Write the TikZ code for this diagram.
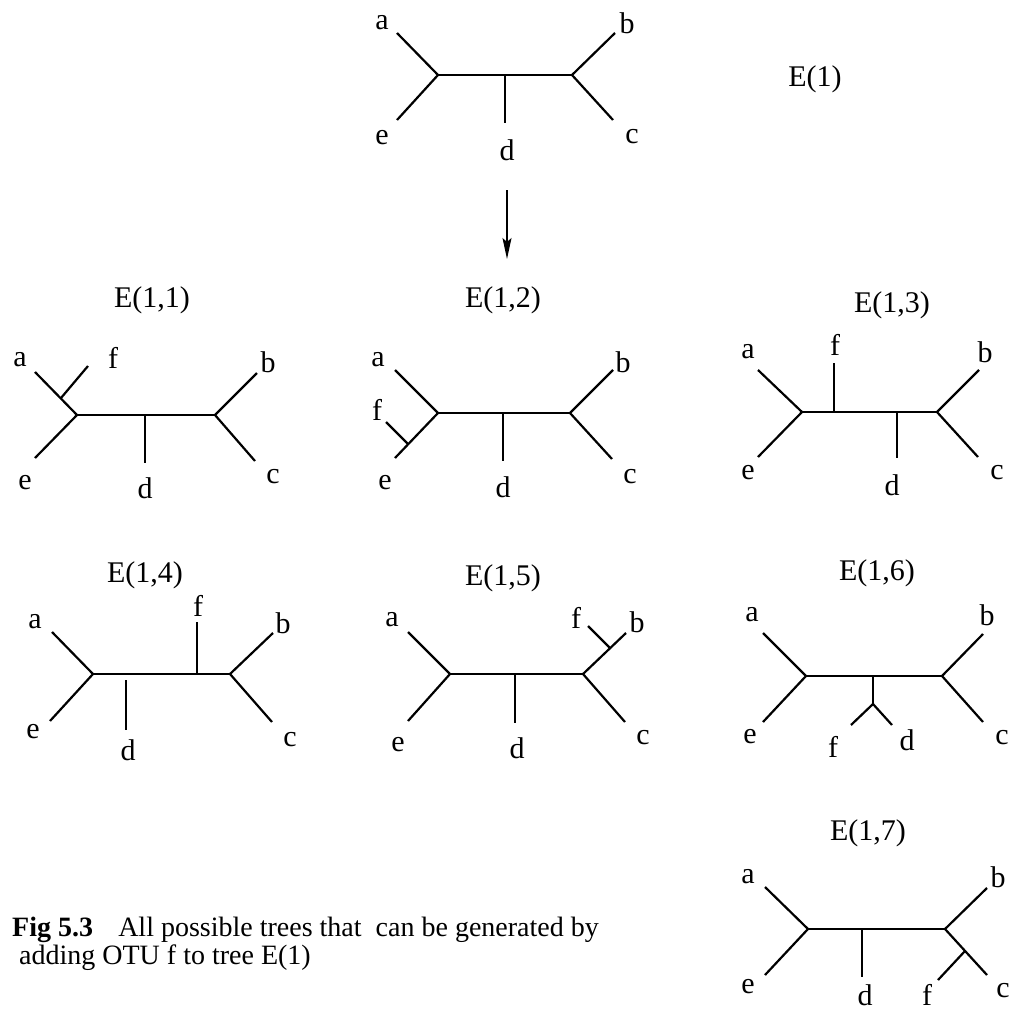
\documentclass[tikz,border=0pt]{standalone}
\usepackage{fontspec}
\setmainfont{Liberation Serif}
\usetikzlibrary{arrows.meta}
\begin{document}
\begin{tikzpicture}[x=1pt,y=-1pt,
  br/.style={line width=2.2pt},
  hbar/.style={line width=1.8pt},
  stem/.style={line width=1.6pt},
  lab/.style={font=\fontsize{30}{32}\selectfont, inner sep=0pt},
  ttl/.style={font=\fontsize{30}{32}\selectfont, inner sep=0pt},
  captxt/.style={font=\fontsize{28}{30}\selectfont, inner sep=0pt, anchor=west}]
\useasboundingbox (0,0) rectangle (1013,1012);
% ---------- E(1)
\coordinate (0L) at (438,75); \coordinate (0R) at (572,75);
\coordinate (0a) at (397,33); \coordinate (0e) at (397,120);
\coordinate (0b) at (615,33); \coordinate (0c) at (613,120);
\coordinate (0dt) at (505,75); \coordinate (0d) at (505,123);
\draw[br] (0a) -- (0L) -- (0e); \draw[hbar] (0L) -- (0R);
\draw[br] (0b) -- (0R) -- (0c); \draw[stem] (0dt) -- (0d);
\node[lab] (0la) at (382,23) {a}; \node[lab] (0lb) at (627,23) {b};
\node[lab] (0le) at (382,138) {e}; \node[lab] (0lc) at (632,137) {c};
\node[lab] (0ld) at (507,150) {d};
\node[ttl] (t0) at (815,79) {E(1)};
\coordinate (ar1) at (507,190); \coordinate (ar2) at (507,259);
\draw[line width=1.4pt,-{Stealth[length=21pt,width=9pt,inset=4pt]}] (ar1) -- (ar2);
% ---------- E(1,1)
\node[ttl] (t1) at (152,300) {E(1,1)};
\coordinate (1L) at (77,415); \coordinate (1R) at (215,415);
\coordinate (1a) at (35,372); \coordinate (1e) at (35,458);
\coordinate (1b) at (257,373); \coordinate (1c) at (255,461);
\coordinate (1dt) at (145,415); \coordinate (1d) at (145,463);
\coordinate (1fs) at (61,398); \coordinate (1f) at (88,366);
\draw[br] (1a) -- (1L) -- (1e); \draw[hbar] (1L) -- (1R);
\draw[br] (1b) -- (1R) -- (1c); \draw[stem] (1dt) -- (1d);
\draw[br] (1fs) -- (1f);
\node[lab] (1la) at (20,360) {a}; \node[lab] (1lf) at (113,358) {f};
\node[lab] (1lb) at (268,362) {b}; \node[lab] (1le) at (25,483) {e};
\node[lab] (1ld) at (145,488) {d}; \node[lab] (1lc) at (273,477) {c};
% ---------- E(1,2)
\node[ttl] (t2) at (503,300) {E(1,2)};
\coordinate (2L) at (438,413); \coordinate (2R) at (570,413);
\coordinate (2a) at (395,370); \coordinate (2e) at (395,458);
\coordinate (2b) at (613,370); \coordinate (2c) at (612,459);
\coordinate (2dt) at (503,413); \coordinate (2d) at (503,461);
\coordinate (2fs) at (408,444); \coordinate (2f) at (386,422);
\draw[br] (2a) -- (2L) -- (2e); \draw[hbar] (2L) -- (2R);
\draw[br] (2b) -- (2R) -- (2c); \draw[stem] (2dt) -- (2d);
\draw[br] (2fs) -- (2f);
\node[lab] (2la) at (378,360) {a}; \node[lab] (2lf) at (377,410) {f};
\node[lab] (2lb) at (623,362) {b}; \node[lab] (2le) at (385,483) {e};
\node[lab] (2ld) at (503,487) {d}; \node[lab] (2lc) at (630,477) {c};
% ---------- E(1,3)
\node[ttl] (t3) at (892,305) {E(1,3)};
\coordinate (3L) at (802,412); \coordinate (3R) at (937,412);
\coordinate (3a) at (758,370); \coordinate (3e) at (758,457);
\coordinate (3b) at (979,370); \coordinate (3c) at (978,457);
\coordinate (3ft) at (834,412); \coordinate (3f) at (834,363);
\coordinate (3dt) at (897,412); \coordinate (3d) at (897,458);
\draw[br] (3a) -- (3L) -- (3e); \draw[hbar] (3L) -- (3R);
\draw[br] (3b) -- (3R) -- (3c); \draw[stem] (3dt) -- (3d);
\draw[stem] (3ft) -- (3f);
\node[lab] (3la) at (748,352) {a}; \node[lab] (3lf) at (835,345) {f};
\node[lab] (3lb) at (985,352) {b}; \node[lab] (3le) at (748,473) {e};
\node[lab] (3ld) at (892,485) {d}; \node[lab] (3lc) at (997,473) {c};
% ---------- E(1,4)
\node[ttl] (t4) at (145,575) {E(1,4)};
\coordinate (4L) at (93,674); \coordinate (4R) at (230,674);
\coordinate (4a) at (52,632); \coordinate (4e) at (50,721);
\coordinate (4b) at (273,633); \coordinate (4c) at (272,722);
\coordinate (4dt) at (126,680); \coordinate (4d) at (126,730);
\coordinate (4ft) at (197,674); \coordinate (4f) at (197,622);
\draw[br] (4a) -- (4L) -- (4e); \draw[hbar] (4L) -- (4R);
\draw[br] (4b) -- (4R) -- (4c); \draw[stem] (4dt) -- (4d);
\draw[stem] (4ft) -- (4f);
\node[lab] (4la) at (35,622) {a}; \node[lab] (4lf) at (198,606) {f};
\node[lab] (4lb) at (283,623) {b}; \node[lab] (4le) at (33,732) {e};
\node[lab] (4ld) at (128,750) {d}; \node[lab] (4lc) at (290,740) {c};
% ---------- E(1,5)
\node[ttl] (t5) at (503,578) {E(1,5)};
\coordinate (5L) at (450,674); \coordinate (5R) at (583,674);
\coordinate (5a) at (408,632); \coordinate (5e) at (408,721);
\coordinate (5b) at (626,633); \coordinate (5c) at (625,722);
\coordinate (5dt) at (515,674); \coordinate (5d) at (515,723);
\coordinate (5fs) at (610,648); \coordinate (5f) at (588,626);
\draw[br] (5a) -- (5L) -- (5e); \draw[hbar] (5L) -- (5R);
\draw[br] (5b) -- (5R) -- (5c); \draw[stem] (5dt) -- (5d);
\draw[br] (5fs) -- (5f);
\node[lab] (5la) at (392,620) {a}; \node[lab] (5lf) at (576,618) {f};
\node[lab] (5lb) at (637,622) {b}; \node[lab] (5le) at (398,745) {e};
\node[lab] (5ld) at (517,748) {d}; \node[lab] (5lc) at (643,738) {c};
% ---------- E(1,6)
\node[ttl] (t6) at (877,573) {E(1,6)};
\coordinate (6L) at (806,676); \coordinate (6R) at (942,676);
\coordinate (6a) at (763,633); \coordinate (6e) at (763,722);
\coordinate (6b) at (983,634); \coordinate (6c) at (983,722);
\coordinate (6st) at (873,676); \coordinate (6s) at (873,704);
\coordinate (6f) at (851,725); \coordinate (6d) at (892,725);
\draw[br] (6a) -- (6L) -- (6e); \draw[hbar] (6L) -- (6R);
\draw[br] (6b) -- (6R) -- (6c); \draw[stem] (6st) -- (6s);
\draw[br] (6f) -- (6s) -- (6d);
\node[lab] (6la) at (752,615) {a}; \node[lab] (6lb) at (987,615) {b};
\node[lab] (6le) at (750,737) {e}; \node[lab] (6lf) at (833,747) {f};
\node[lab] (6ld) at (907,740) {d}; \node[lab] (6lc) at (1002,738) {c};
% ---------- E(1,7)
\node[ttl] (t7) at (868,833) {E(1,7)};
\coordinate (7L) at (808,929); \coordinate (7R) at (945,929);
\coordinate (7a) at (765,887); \coordinate (7e) at (765,975);
\coordinate (7b) at (987,888); \coordinate (7c) at (987,975);
\coordinate (7dt) at (862,929); \coordinate (7d) at (862,977);
\coordinate (7fs) at (965,951); \coordinate (7f) at (938,980);
\draw[br] (7a) -- (7L) -- (7e); \draw[hbar] (7L) -- (7R);
\draw[br] (7b) -- (7R) -- (7c); \draw[stem] (7dt) -- (7d);
\draw[br] (7fs) -- (7f);
\node[lab] (7la) at (748,877) {a}; \node[lab] (7lb) at (998,877) {b};
\node[lab] (7le) at (748,987) {e}; \node[lab] (7ld) at (865,995) {d};
\node[lab] (7lf) at (927,995) {f}; \node[lab] (7lc) at (1003,991) {c};
% ---------- caption
\node[captxt] (cap1) at (12,930) {\textbf{Fig 5.3}\hspace{0.9em}All possible trees that\ \ can be generated by};
\node[captxt] (cap2) at (19,958) {adding OTU f to tree E(1)};
\end{tikzpicture}
\end{document}
